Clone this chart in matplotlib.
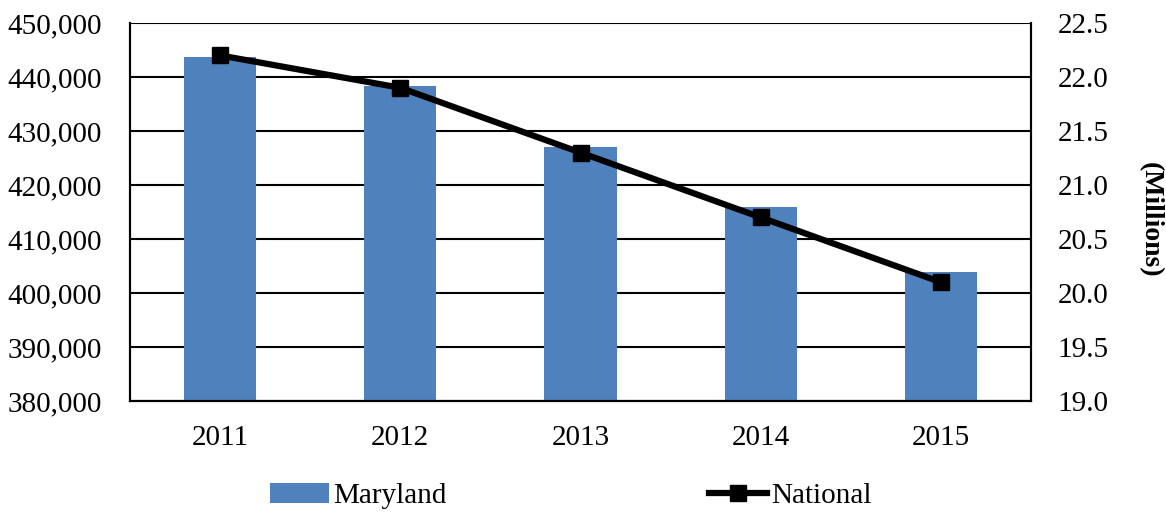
import matplotlib
matplotlib.use("Agg")
import matplotlib.pyplot as plt
from matplotlib.ticker import FuncFormatter
from matplotlib.lines import Line2D
from matplotlib.patches import Patch

years = ["2011", "2012", "2013", "2014", "2015"]
maryland = [443650, 438300, 427000, 416000, 403900]
national = [22.2, 21.9, 21.3, 20.7, 20.1]

plt.rcParams['font.family'] = ['Liberation Serif', 'DejaVu Serif']
plt.rcParams['font.size'] = 21

fig = plt.figure(figsize=(11.66, 5.13), dpi=100)
ax = fig.add_axes([130/1166, 1 - 401/513, 901/1166, 378/513])
bar_color = '#4F81BD'
x = list(range(len(years)))
ax.bar(x, maryland, width=0.4, color=bar_color, zorder=2)
ax.set_ylim(380000, 450000)
ax.set_xlim(-0.5, 4.5)
ax.set_yticks(range(380000, 450001, 10000))
ax.yaxis.set_major_formatter(FuncFormatter(lambda v, p: f"{int(v):,}"))
ax.set_xticks(x)
ax.set_xticklabels(years)
ax.tick_params(axis='x', length=0, pad=17)
ax.tick_params(axis='y', length=0, pad=20)
ax.grid(axis='y', color='black', linewidth=1.5, zorder=1)
ax.set_axisbelow(True)
for s in ['left', 'bottom', 'right', 'top']:
    ax.spines[s].set_linewidth(1.5)
ax.spines['top'].set_visible(False)

ax2 = ax.twinx()
ax2.plot(x, national, color='black', linewidth=4.5, marker='s', markersize=12, zorder=5)
ax2.set_ylim(19.0, 22.5)
ax2.set_yticks([19.0 + 0.5 * i for i in range(8)])
ax2.yaxis.set_major_formatter(FuncFormatter(lambda v, p: f"{v:.1f}"))
ax2.tick_params(axis='y', length=0, pad=19)
for s in ['left', 'bottom', 'right', 'top']:
    ax2.spines[s].set_linewidth(1.5)
ax2.spines['top'].set_visible(False)

fig.text(1150/1166, 1 - 220/513, "(Millions)", rotation=270, fontweight='bold',
         fontsize=20, ha='center', va='center')

handles = [Patch(facecolor=bar_color, edgecolor='none', label='Maryland'),
           Line2D([], [], color='black', linewidth=4.5, marker='s', markersize=11, label='National')]
fig.legend(handles=handles, loc='center', bbox_to_anchor=(571/1166, 1 - 496/513),
           ncol=2, frameon=False, columnspacing=9.0, handlelength=2.0, handletextpad=0.14,
           fontsize=21, borderpad=0, borderaxespad=0)

fig.savefig("out.png", dpi=100)
